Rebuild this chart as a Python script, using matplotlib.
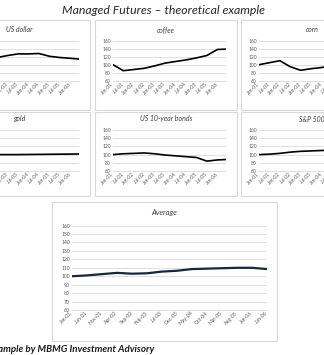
import matplotlib
matplotlib.use("Agg")
import matplotlib.pyplot as plt
import matplotlib.dates as mdates
from matplotlib.patches import Rectangle
import pandas as pd

plt.rcParams['font.family'] = ['Lato', 'DejaVu Sans']

# semi-annual readings, normalised to 100 at Jan-01
semi_dates = ['2001-01', '2001-07', '2002-01', '2002-07', '2003-01', '2003-07',
              '2004-01', '2004-07', '2005-01', '2005-07', '2006-01', '2006-06']
us_dollar = [100, 105, 110, 118, 123, 127, 127, 128, 121, 118, 116, 114]
coffee = [100, 85, 88, 91, 97, 104, 108, 112, 117, 123, 138, 139]
corn = [100, 105, 110, 95, 86, 90, 93, 97, 95, 99, 102, 104]
gold = [100, 100, 100, 100, 100, 100, 100.3, 100.5, 100.8, 101, 101.3, 101.5]
bonds = [100, 102, 103, 104, 102, 99, 97, 95, 93, 84, 87, 88]
sp500 = [100, 101, 103, 106, 108, 109, 110, 111, 112, 113, 115, 116]

# average, read at its 5-monthly tick dates
avg_dates = ['2001-01', '2001-06', '2001-11', '2002-04', '2002-09', '2003-02',
             '2003-07', '2003-12', '2004-05', '2004-10', '2005-03', '2005-08',
             '2006-01', '2006-06']
average = [100, 101, 102.5, 104, 103, 103.5, 105.5, 106.5, 108.5, 109, 109.5,
           110, 110, 108.5]

W, H = 324, 355
fig = plt.figure(figsize=(W / 100, H / 100), dpi=100)
fig.patch.set_facecolor('white')


def rect(x0, y0, x1, y1):
    return [x0 / W, 1 - y1 / H, (x1 - x0) / W, (y1 - y0) / H]


def frame(x0, y0, x1, y1):
    fig.patches.append(Rectangle((x0 / W, 1 - y1 / H), (x1 - x0) / W, (y1 - y0) / H,
                                 transform=fig.transFigure, fill=False,
                                 edgecolor='#d9d9d9', lw=0.8))


def style(ax, ymin, ymax, step, ticks, lab_size):
    ax.set_ylim(ymin, ymax)
    ax.set_yticks(range(ymin, ymax + 1, step))
    ax.set_xlim(pd.Timestamp('2001-01'), pd.Timestamp('2006-06'))
    ax.set_xticks(ticks)
    ax.xaxis.set_major_formatter(mdates.DateFormatter('%b-%y'))
    ax.grid(axis='y', color='#d9d9d9', lw=0.6)
    ax.set_axisbelow(True)
    for s in ['top', 'right', 'left']:
        ax.spines[s].set_visible(False)
    ax.spines['bottom'].set_color('#d9d9d9')
    ax.spines['bottom'].set_linewidth(0.6)
    ax.tick_params(length=0, labelsize=lab_size, colors='#595959', pad=1.5)
    for t in ax.get_xticklabels():
        t.set_rotation(45)
        t.set_ha('right')
        t.set_va('center')
        t.set_rotation_mode('anchor')
    ax.patch.set_alpha(0)


small_ticks = pd.date_range('2001-01-01', '2006-01-01', freq='6MS')
avg_ticks = pd.date_range('2001-01-01', '2006-06-01', freq='5MS')
x_semi = pd.to_datetime(semi_dates)

panels = [
    ('US dollar', us_dollar, 0, 0), ('coffee', coffee, 0, 1), ('corn', corn, 0, 2),
    ('gold', gold, 1, 0), ('US 10-year bonds', bonds, 1, 1), ('S&P 500', sp500, 1, 2),
]
box_x = [(-52, 90), (95, 237), (241, 383)]
box_y = [(20, 110), (112, 196)]
plot_y = [(40.7, 80.7), (130, 171)]

for name, vals, r, c in panels:
    bx0, bx1 = box_x[c]
    by0, by1 = box_y[r]
    frame(bx0, by0, bx1, by1)
    ax = fig.add_axes(rect(bx0 + 18, plot_y[r][0], bx1 - 11, plot_y[r][1]))
    ax.plot(x_semi, vals, color='black', lw=1.2)
    style(ax, 60, 160, 20, small_ticks, 3.6)
    fig.text((bx0 + bx1) / 2 / W, 1 - (plot_y[r][0] - 11) / H, name,
             ha='center', va='center', fontsize=5, style='italic', color='#404040')

# average panel
frame(52, 202, 277, 341)
ax = fig.add_axes(rect(72, 225.6, 267, 310))
ax.plot(pd.to_datetime(avg_dates), average, color='#1b2440', lw=1.6)
style(ax, 60, 160, 10, avg_ticks, 3.7)
fig.text(164.5 / W, 1 - 212 / H, 'Average', ha='center', va='center',
         fontsize=5.5, style='italic', color='#404040')

fig.text(164 / W, 1 - 10 / H, 'Managed Futures \u2013 theoretical example',
         ha='center', va='center', fontsize=8.8, style='italic', color='#262626')
fig.text(154 / W, 1 - 349 / H, 'Example by MBMG Investment Advisory',
         ha='right', va='center', fontsize=7.0, style='italic', weight='bold',
         color='#1a1a1a')

fig.savefig('out.png', dpi=100)
